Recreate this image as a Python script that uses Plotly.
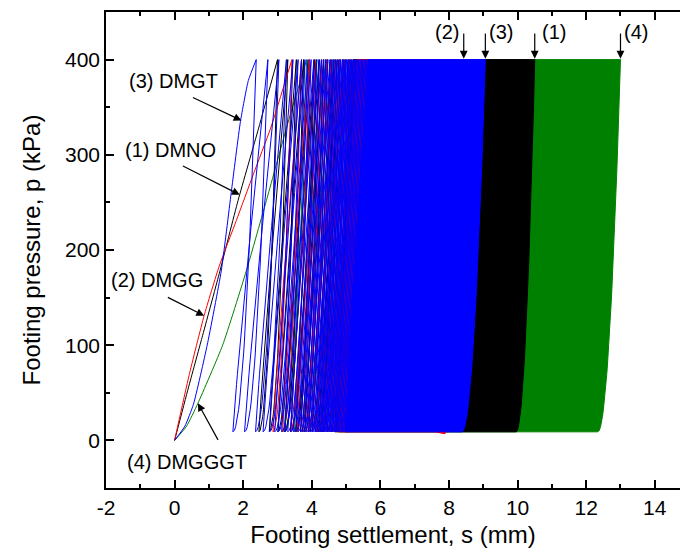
import numpy as np
import plotly.graph_objects as go

# ---- first-loading branches (settlement s in mm, pressure p in kPa) ----
dmno_first_s = [0, 0.4, 0.8, 1.3, 1.85, 2.45, 3.0]
dmno_first_p = [0, 55, 108, 175, 252, 328, 400]
dmgg_first_s = [0, 0.42, 0.86, 1.3, 1.8, 2.3, 2.8, 3.42]
dmgg_first_p = [0, 68, 131, 183, 231, 280, 328, 400]
dmgt_first_s = [0, 0.3, 0.55, 0.95, 1.36, 1.65, 1.92, 2.15, 2.38]
dmgt_first_p = [0, 15, 38, 100, 178, 260, 335, 378, 400]
dmgggt_first_s = [0, 0.35, 0.68, 1.4, 2.09, 2.7, 3.26, 3.85]
dmgggt_first_p = [0, 15, 39, 100, 178, 255, 328, 400]

# ---- settlement at peak load for the individually visible cycles ----
dmno_peaks = [3.0, 3.3, 3.55, 3.76, 3.93, 4.08, 4.22, 4.34, 4.45, 4.55,
              4.65, 4.74, 4.83, 4.91, 4.99, 5.07, 5.14, 5.21]
dmgg_peaks = [3.42, 3.7, 3.93, 4.12, 4.29, 4.44, 4.57, 4.69, 4.8, 4.9,
              4.99, 5.08, 5.16, 5.24, 5.32]
dmgt_peaks = [2.38, 2.72, 3.04, 3.26, 3.45, 3.6, 3.7, 3.8, 3.89, 3.98,
              4.06, 4.14, 4.21, 4.28, 4.35, 4.41, 4.47, 4.53, 4.59, 4.64,
              4.69, 4.74, 4.79, 4.84, 4.89, 4.93, 4.97, 5.01, 5.05, 5.09,
              5.13, 5.17, 5.21, 5.25, 5.29, 5.33, 5.37, 5.41, 5.45, 5.49,
              5.53, 5.57, 5.61, 5.65]
dmgggt_peaks = [3.85, 4.15, 4.4, 4.62, 4.8, 4.96, 5.1, 5.23, 5.35, 5.46]

# ---- settlement at peak load after the last cycle ----
dmno_final = 10.5
dmgg_final = 8.43
dmgt_final = 9.06
dmgggt_final = 13.0

# ---- elastic rebound per unloading (mm) and cyclic pressure limits ----
dmno_rebound = 0.54
dmgg_rebound = 0.55
dmgt_rebound = 0.68
dmgggt_rebound = 0.66
p_max = 400
p_min = 9
dmgg_p_min_last = 7

# axis tick labels
x_tickvals = [-2, 0, 2, 4, 6, 8, 10, 12, 14]
x_ticktext = ["-2", "0", "2", "4", "6", "8", "10", "12", "14"]

U = np.linspace(0, 1, 30) ** 1.6


def unload_shape(u):
    # stiff just after peak load, soft near the minimum load
    return u ** 0.5


def reload_shape(u):
    return u ** 1.1


def cycle_path(peaks, rebound, pmin, pmax):
    xs, ys = [], []
    for k, top in enumerate(peaks):
        bot = top - rebound
        uu = U[::-1]
        xs.extend(bot + (top - bot) * unload_shape(uu))
        ys.extend(pmin + (pmax - pmin) * uu)
        if k + 1 < len(peaks):
            nxt = peaks[k + 1]
            xs.extend(bot + (nxt - bot) * reload_shape(U))
            ys.extend(pmin + (pmax - pmin) * U)
    return xs, ys


def band_outline(start, end, rebound, pmin, pmax, pmin_last=None):
    if pmin_last is None:
        pmin_last = pmin
    uu = U[::-1]
    left_x = list((start - rebound) + rebound * reload_shape(uu))
    left_y = list(pmin + (pmax - pmin) * uu)
    right_x = list((end - rebound) + rebound * unload_shape(U))
    right_y = list(pmin_last + (pmax - pmin_last) * U)
    bottom_x, bottom_y = [], []
    if pmin_last != pmin:
        bottom_x = [end - rebound - 0.3]
        bottom_y = [pmin]
    xs = left_x + bottom_x + right_x + [start]
    ys = left_y + bottom_y + right_y + [pmax]
    return xs, ys


series = [
    ("(4) DMGGGT", "#008000", dmgggt_first_s, dmgggt_first_p, dmgggt_peaks,
     dmgggt_final, dmgggt_rebound, None),
    ("(1) DMNO", "#000000", dmno_first_s, dmno_first_p, dmno_peaks,
     dmno_final, dmno_rebound, None),
    ("(2) DMGG", "#ff0000", dmgg_first_s, dmgg_first_p, dmgg_peaks,
     dmgg_final, dmgg_rebound, dmgg_p_min_last),
    ("(3) DMGT", "#0000ff", dmgt_first_s, dmgt_first_p, dmgt_peaks,
     dmgt_final, dmgt_rebound, None),
]

fig = go.Figure()
for name, color, fs, fp, peaks, final, reb, pml in series:
    bx, by = band_outline(peaks[-1], final, reb, p_min, p_max, pml)
    fig.add_trace(go.Scatter(x=bx, y=by, mode="lines", fill="toself",
                             fillcolor=color, line=dict(color=color, width=1),
                             hoverinfo="skip", showlegend=False))
    cx, cy = cycle_path(peaks, reb, p_min, p_max)
    fig.add_trace(go.Scatter(x=cx, y=cy, mode="lines",
                             line=dict(color=color, width=1),
                             hoverinfo="skip", showlegend=False))
    fig.add_trace(go.Scatter(x=fs, y=fp, mode="lines",
                             line=dict(color=color, width=1, shape="spline",
                                       smoothing=0.5),
                             name=name, showlegend=False))

FONT = "Liberation Sans, Arial, sans-serif"

# curve labels with arrows
labels = [
    ("(3) DMGT", -0.04, 378, 0.49, 361, 1.95, 336),
    ("(1) DMNO", -0.12, 305, 0.2, 289, 1.9, 258),
    ("(2) DMGG", -0.52, 168, -0.24, 151, 0.86, 131),
    ("(4) DMGGGT", 0.36, -23, 1.29, -1, 0.68, 39),
]
for text, tx, ty, ax, ay, hx, hy in labels:
    fig.add_annotation(x=tx, y=ty, text=text, showarrow=False,
                       font=dict(family=FONT, size=20, color="black"))
    fig.add_annotation(x=hx, y=hy, ax=ax, ay=ay, axref="x", ayref="y",
                       text="", showarrow=True, arrowhead=2, arrowsize=1.3,
                       arrowwidth=1.2, arrowcolor="black", standoff=0)

# final-settlement markers above the bands
finals = [("(2)", dmgg_final, -0.5), ("(3)", dmgt_final, 0.45),
          ("(1)", dmno_final, 0.55), ("(4)", dmgggt_final, 0.45)]
for text, sx, dx in finals:
    fig.add_annotation(x=sx + dx, y=429, text=text, showarrow=False,
                       font=dict(family=FONT, size=20, color="black"))
    fig.add_annotation(x=sx, y=401, ax=sx, ay=429, axref="x", ayref="y",
                       text="", showarrow=True, arrowhead=2, arrowsize=1.3,
                       arrowwidth=1.2, arrowcolor="black", standoff=0)

fig.update_layout(
    width=680, height=554,
    margin=dict(l=106, r=0, t=12, b=66),
    paper_bgcolor="white", plot_bgcolor="white",
    font=dict(family=FONT, size=20, color="black"),
    showlegend=False,
)
fig.update_xaxes(
    range=[-2, 14.735], tickvals=x_tickvals, ticktext=x_ticktext,
    showgrid=False, zeroline=False,
    showline=True, linecolor="black", linewidth=1.5, mirror="ticks",
    ticks="inside", ticklen=8, tickwidth=1.5, tickcolor="black",
    minor=dict(dtick=1, tick0=0, ticks="inside", ticklen=4, tickwidth=1.5,
               tickcolor="black", showgrid=False),
    tickfont=dict(family=FONT, size=21),
    title=dict(text="Footing settlement, s (mm)",
               font=dict(family=FONT, size=24), standoff=8),
)
fig.update_yaxes(
    range=[-50, 450], dtick=100, tick0=0,
    showgrid=False, zeroline=False,
    showline=True, linecolor="black", linewidth=1.5, mirror=False,
    ticks="inside", ticklen=8, tickwidth=1.5, tickcolor="black",
    minor=dict(dtick=50, ticks="inside", ticklen=4, tickwidth=1.5,
               tickcolor="black", showgrid=False),
    tickfont=dict(family=FONT, size=21),
    title=dict(text="Footing pressure, p (kPa)",
               font=dict(family=FONT, size=24), standoff=18),
)

fig.write_html("out.html", config={"displayModeBar": False})
